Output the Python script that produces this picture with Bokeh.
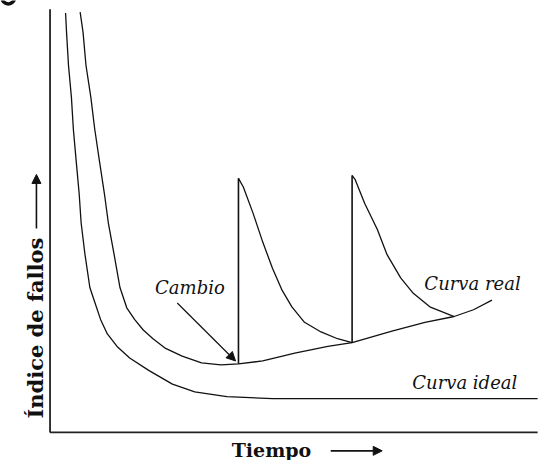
from bokeh.plotting import figure
from bokeh.models import Label, Arrow, NormalHead, Range1d
from bokeh.embed import file_html
from bokeh.resources import INLINE
import math

# ---- data (time units on x, failure-rate units on y) ----
ideal_t = [16, 17, 19, 22, 24, 27, 30, 32, 36, 41, 46, 52, 59, 69, 82, 102, 126, 149, 182, 229, 502]
ideal_r = [434, 414, 380, 347, 314, 280, 247, 217, 184, 150, 135, 117, 102, 89, 77, 64, 50, 42, 37, 35, 35]

real_t = [31, 34, 37, 42, 46, 51, 56, 60, 66, 72, 79, 87, 96, 106, 119, 136, 156, 176, 194,
          219, 252, 286, 311, 352, 386, 416, 436, 455]
real_r = [435, 414, 380, 347, 314, 280, 247, 217, 184, 150, 129, 117, 106, 97, 87, 79, 72, 70, 71,
          74, 82, 89, 93, 105, 114, 120, 127, 137]

# changes (vertical jumps): time, base rate, peak rate
change_t = [194, 311]
change_base = [71, 93]
change_peak = [263, 266]

decay1_t = [194, 199, 209, 219, 229, 239, 249, 262, 279, 296, 311]
decay1_r = [263, 254, 227, 197, 170, 147, 130, 114, 104, 97, 93]

decay2_t = [311, 314, 324, 337, 347, 361, 374, 391, 411, 416]
decay2_r = [266, 262, 237, 210, 184, 160, 144, 130, 122, 120]

# axis extents
t_max = 502
r_max = 438

x_title = "Tiempo"
y_title = "Índice de fallos"
lbl_change = "Cambio"
lbl_real = "Curva real"
lbl_ideal = "Curva ideal"

p = figure(width=541, height=460, output_backend="svg", toolbar_location=None,
           x_range=Range1d(-51, 506), y_range=Range1d(-29, 447),
           min_border=0, min_border_left=0, min_border_bottom=0, min_border_top=0, min_border_right=0)
p.xaxis.visible = False
p.yaxis.visible = False
p.grid.visible = False
p.outline_line_color = None
p.background_fill_color = "white"
p.border_fill_color = "white"

col = "#111111"
# cut-off glyph fragment at the top-left corner of the original
p.arc(x=[-43], y=[450], radius=6.5, start_angle=math.pi, end_angle=2 * math.pi,
      line_color=col, line_width=3.5)

# axes
p.segment(x0=[0, 0], y0=[0, 0], x1=[t_max, 0], y1=[0, r_max], line_color="#222222", line_width=1.8)

lw = 1.3
p.line(ideal_t, ideal_r, line_color=col, line_width=lw)
p.line(real_t, real_r, line_color=col, line_width=lw)
p.line(decay1_t, decay1_r, line_color=col, line_width=lw)
p.line(decay2_t, decay2_r, line_color=col, line_width=lw)
p.segment(x0=change_t, y0=change_base, x1=change_t, y1=change_peak, line_color=col, line_width=1.6)

ital = dict(text_font="DejaVu Serif", text_font_style="italic", text_font_size="18px",
            text_color="#111111", text_align="center", text_baseline="middle")
p.add_layout(Label(x=144, y=150, text=lbl_change, **ital))
p.add_layout(Label(x=435, y=154, text=lbl_real, **ital))
p.add_layout(Label(x=427, y=52, text=lbl_ideal, **ital))

p.add_layout(Arrow(x_start=131, y_start=134, x_end=191, y_end=74, line_width=1.2, line_color=col,
                   end=NormalHead(size=9, fill_color=col, line_color=col)))

bold = dict(text_font="DejaVu Serif", text_font_style="bold",
            text_color="#111111", text_align="center", text_baseline="middle")
p.add_layout(Label(x=-15, y=108, text=y_title, angle=math.pi / 2, text_font_size="21px", **bold))
p.add_layout(Label(x=228, y=-18, text=x_title, text_font_size="19px", **bold))

p.add_layout(Arrow(x_start=-14, y_start=211, x_end=-14, y_end=267, line_width=1.6, line_color=col,
                   end=NormalHead(size=9, fill_color=col, line_color=col)))
p.add_layout(Arrow(x_start=289, y_start=-19, x_end=342, y_end=-19, line_width=1.6, line_color=col,
                   end=NormalHead(size=9, fill_color=col, line_color=col)))

open("out.html", "w").write(file_html(p, INLINE))
